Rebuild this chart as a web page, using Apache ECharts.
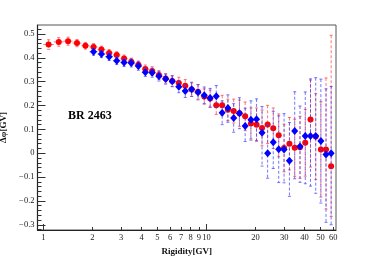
<!DOCTYPE html>
<html><head><meta charset="utf-8">
<script src="https://cdn.jsdelivr.net/npm/echarts@6/dist/echarts.min.js"></script>
<style>html,body{margin:0;padding:0;background:#fff}#c{width:374px;height:256px}</style>
</head><body><div id="c"></div>
<script>
// Rigidity bins (GV)
const binEdges = [1.00,1.16,1.33,1.51,1.71,1.92,2.15,2.40,2.67,2.97,3.29,3.64,4.02,4.43,4.88,5.37,5.90,6.47,7.09,7.76,8.48,9.26,10.1,11.0,12.0,13.0,14.1,15.3,16.6,18.0,19.5,21.1,22.8,24.7,26.7,28.8,31.1,33.5,36.1,38.9,41.9,45.1,48.5,52.2,56.1,60.3];
const rigidity = [1.077,1.243,1.418,1.608,1.812,2.032,2.271,2.532,2.818,3.126,3.461,3.826,4.220,4.649,5.116,5.624,6.171,6.772,7.418,8.117,8.881,9.701,10.54,11.49,12.49,13.54,14.69,15.94,17.28,18.74,20.29,21.93,23.73,25.69,27.75,29.93,32.28,34.78,37.48,40.37,43.47,46.78,50.32,54.12,58.17];

const redDelta = [0.456,0.467,0.470,0.462,0.451,0.446,0.435,0.421,0.412,0.397,0.384,0.371,0.353,0.345,0.328,0.314,0.303,0.295,0.283,0.267,0.258,0.238,0.230,0.201,0.201,0.182,0.177,0.168,0.155,0.125,0.120,0.106,0.121,0.105,0.075,0.022,0.040,0.023,0.025,0.044,0.142,0.070,0.016,0.016,-0.055];
const redErrUp = [0.020,0.018,0.017,0.015,0.014,0.014,0.014,0.014,0.014,0.015,0.015,0.016,0.017,0.018,0.019,0.020,0.022,0.024,0.026,0.028,0.030,0.032,0.035,0.038,0.042,0.045,0.050,0.055,0.060,0.065,0.070,0.075,0.080,0.085,0.090,0.100,0.110,0.120,0.130,0.140,0.165,0.180,0.200,0.300,0.550];
const redErrDown = [0.020,0.018,0.017,0.015,0.014,0.014,0.014,0.014,0.014,0.015,0.015,0.016,0.017,0.018,0.019,0.020,0.022,0.024,0.026,0.028,0.030,0.032,0.035,0.038,0.042,0.045,0.050,0.055,0.060,0.065,0.070,0.075,0.080,0.085,0.090,0.100,0.110,0.120,0.130,0.140,0.200,0.180,0.200,0.250,0.210];

const blueDelta = [null,null,null,null,null,0.426,0.416,0.405,0.388,0.381,0.379,0.366,0.340,0.338,0.323,0.311,0.302,0.279,0.261,0.268,0.256,0.243,0.232,0.239,0.170,0.190,0.148,0.168,0.114,0.140,0.143,0.086,0.000,0.046,0.017,0.016,-0.031,0.093,0.028,0.072,0.072,0.072,0.051,-0.005,0.000];
const blueErrUp = [null,null,null,null,null,0.015,0.015,0.016,0.016,0.017,0.017,0.018,0.018,0.019,0.020,0.021,0.023,0.025,0.027,0.030,0.032,0.035,0.040,0.045,0.050,0.055,0.060,0.065,0.075,0.080,0.085,0.110,0.120,0.130,0.140,0.150,0.160,0.165,0.170,0.185,0.240,0.245,0.260,0.275,0.280];
const blueErrDown = [null,null,null,null,null,0.015,0.015,0.016,0.016,0.017,0.017,0.018,0.018,0.019,0.020,0.021,0.023,0.025,0.027,0.030,0.032,0.035,0.040,0.045,0.050,0.060,0.060,0.065,0.065,0.085,0.090,0.140,0.105,0.110,0.140,0.140,0.150,0.200,0.150,0.200,0.210,0.240,0.260,0.285,0.300];

const xTickLabels = [1,2,3,4,5,6,7,8,9,10,20,30,40,50,60];
const xMajorTicks = [1,10];
const yTickLabels = [-0.3,-0.2,-0.1,0,0.1,0.2,0.3,0.4,0.5];
const xRange = [0.921, 62.3];
const yRange = [-0.322, 0.538];
const labelText = 'BR 2463';

const L = Math.log10;
function build(vals, up, dn) {
  const out = [];
  for (let i = 0; i < rigidity.length; i++) {
    if (vals[i] === null) continue;
    out.push([L(rigidity[i]), vals[i], up[i], dn[i], L(binEdges[i]), L(binEdges[i+1])]);
  }
  return out;
}
const redData = build(redDelta, redErrUp, redErrDown);
const blueData = build(blueDelta, blueErrUp, blueErrDown);

const yMinor = [];
for (let k = -16; k <= 26; k++) { if (k % 5 !== 0) yMinor.push(k * 0.02); }

function errRender(color) {
  return function (params, api) {
    const x = api.value(0), y = api.value(1), up = api.value(2), dn = api.value(3), lo = api.value(4), hi = api.value(5);
    const c = api.coord([x, y]), t = api.coord([x, y + up]), b = api.coord([x, y - dn]);
    const l = api.coord([lo, y]), r = api.coord([hi, y]);
    const solid = { stroke: color, lineWidth: 1 };
    return { type: 'group', children: [
      { type: 'line', shape: { x1: t[0], y1: t[1], x2: b[0], y2: b[1] }, style: { stroke: color, lineWidth: 1, lineDash: [3, 2] } },
      { type: 'line', shape: { x1: t[0] - 1.5, y1: t[1], x2: t[0] + 1.5, y2: t[1] }, style: solid },
      { type: 'line', shape: { x1: b[0] - 1.5, y1: b[1], x2: b[0] + 1.5, y2: b[1] }, style: solid },
      { type: 'line', shape: { x1: l[0], y1: c[1], x2: r[0], y2: c[1] }, style: solid }
    ] };
  };
}

const font = 'Liberation Serif';
const chart = echarts.init(document.getElementById('c'), null, { renderer: 'canvas' });
const axisCommon = { type: 'value', splitLine: { show: false } };
chart.setOption({
  animation: false,
  backgroundColor: '#fff',
  grid: { left: 37.5, right: 38, top: 25, bottom: 26, show: true, borderColor: '#555', borderWidth: 1, backgroundColor: 'transparent', containLabel: false, outerBoundsMode: 'none' },
  xAxis: [
    Object.assign({}, axisCommon, {
      min: L(xRange[0]), max: L(xRange[1]),
      axisLine: { show: true, onZero: false, lineStyle: { color: '#222', width: 1.2 } },
      axisTick: { show: true, inside: true, length: 3, customValues: xTickLabels.map(L), lineStyle: { color: '#333' } },
      axisLabel: { show: true, margin: 3, customValues: xTickLabels.map(L), formatter: v => String(Math.round(Math.pow(10, v))), fontFamily: font, fontSize: 8.5, color: '#222' },
      name: 'Rigidity[GV]', nameLocation: 'middle', nameGap: 10,
      nameTextStyle: { fontFamily: font, fontWeight: 'bold', fontSize: 9, color: '#111' }
    }),
    Object.assign({}, axisCommon, {
      min: L(xRange[0]), max: L(xRange[1]), position: 'bottom',
      axisLine: { show: false, onZero: false },
      axisTick: { show: true, inside: true, length: 6, customValues: xMajorTicks.map(L), lineStyle: { color: '#333' } },
      axisLabel: { show: false }
    })
  ],
  yAxis: [
    Object.assign({}, axisCommon, {
      min: yRange[0], max: yRange[1],
      axisLine: { show: true, onZero: false, lineStyle: { color: '#222', width: 1.2 } },
      axisTick: { show: true, inside: true, length: 8, customValues: yTickLabels, lineStyle: { color: '#333' } },
      axisLabel: { show: true, margin: 3, customValues: yTickLabels, formatter: v => Math.abs(v) < 1e-9 ? '0' : v.toFixed(1).replace('-', '\u2212'), fontFamily: font, fontSize: 8.5, color: '#222' },
      name: '\u0394\u03c6[GV]', nameLocation: 'middle', nameGap: 22,
      nameTextStyle: { fontFamily: font, fontWeight: 'bold', fontSize: 9, color: '#111' }
    }),
    Object.assign({}, axisCommon, {
      min: yRange[0], max: yRange[1], position: 'left',
      axisLine: { show: false, onZero: false },
      axisTick: { show: true, inside: true, length: 4, customValues: yMinor, lineStyle: { color: '#333' } },
      axisLabel: { show: false }
    })
  ],
  graphic: [{ type: 'text', left: 68, top: 110, style: { text: labelText, font: 'bold 12px "Liberation Serif"', fill: '#000' } }],
  series: [
    { type: 'custom', name: 'redErr', renderItem: errRender('rgba(255,70,70,0.75)'), data: redData, encode: { x: 0, y: 1 }, z: 2 },
    { type: 'scatter', name: 'red', data: redData.map(d => [d[0], d[1]]), symbol: 'circle', symbolSize: 6, itemStyle: { color: '#ff0000', opacity: 1 }, z: 3 },
    { type: 'custom', name: 'blueErr', renderItem: errRender('rgba(60,60,255,0.7)'), data: blueData, encode: { x: 0, y: 1 }, z: 4 },
    { type: 'scatter', name: 'blue', data: blueData.map(d => [d[0], d[1]]), symbol: 'diamond', symbolSize: [7, 8], itemStyle: { color: '#0000ff', opacity: 1 }, z: 5 }
  ]
});
</script></body></html>
